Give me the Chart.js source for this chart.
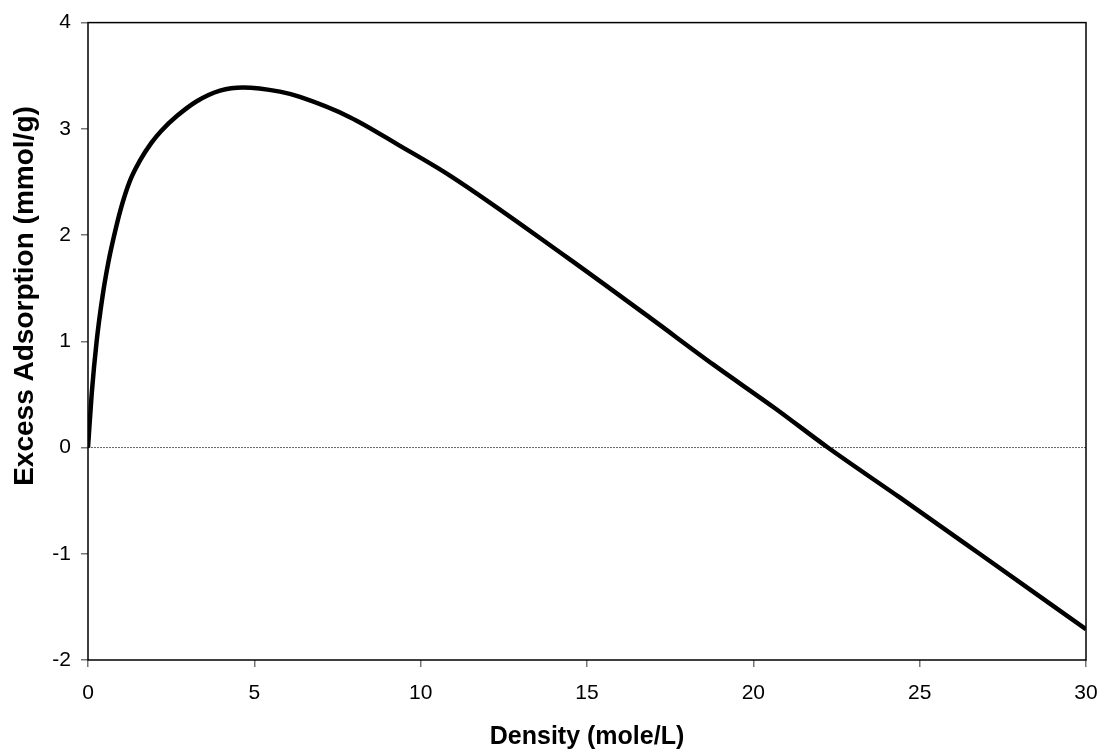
<!DOCTYPE html>
<html>
<head>
<meta charset="utf-8">
<script src="https://cdn.jsdelivr.net/npm/chart.js@4"></script>
<style>
  html, body { margin: 0; padding: 0; background: #fff; }
  #wrap { width: 1109px; height: 752px; }
</style>
</head>
<body>
<div id="wrap"><canvas id="chart" width="1109" height="752"></canvas></div>
<script>
// values
const density = [0, 0.11, 0.26, 0.44, 0.61, 0.76, 0.98, 1.26, 1.56, 1.91, 2.2, 2.67, 3.27, 3.97, 4.66, 5.77, 6.37, 7.87, 9.38, 10.88, 14.4, 16.9, 18.8, 20.65, 22.24, 24.4, 26.8, 30];
const excess = [0, 0.50, 1.0, 1.43, 1.74, 1.96, 2.24, 2.51, 2.70, 2.87, 2.98, 3.12, 3.26, 3.36, 3.39, 3.35, 3.30, 3.11, 2.84, 2.56, 1.79, 1.22, 0.78, 0.37, 0.0, -0.47, -1.0, -1.71];
const zeroLineX = [0, 30];
const zeroLineY = [0, 0];

const xTicks = [0, 5, 10, 15, 20, 25, 30];
const yTicks = [-2, -1, 0, 1, 2, 3, 4];
const yTitle = "Excess Adsorption (mmol/g)";

const font = "'Liberation Sans', Arial, sans-serif";

// box around the plot area, plus the y title (sits above the axis middle)
const frame = {
  id: "frame",
  afterDatasetsDraw(chart) {
    const { ctx, chartArea: a } = chart;
    ctx.save();
    ctx.strokeStyle = "#000";
    ctx.lineWidth = 1.5;
    ctx.strokeRect(a.left, a.top, a.right - a.left, a.bottom - a.top);
    ctx.translate(33, 296);
    ctx.rotate(-Math.PI / 2);
    ctx.fillStyle = "#000";
    ctx.font = "bold 28px " + font;
    ctx.textAlign = "center";
    ctx.textBaseline = "alphabetic";
    ctx.fillText(yTitle, 0, 0);
    ctx.restore();
  },
};

new Chart(document.getElementById("chart"), {
  type: "line",
  data: {
    datasets: [
      {
        data: density.map((x, i) => ({ x: x, y: excess[i] })),
        borderColor: "#000",
        borderWidth: 4.5,
        pointRadius: 0,
        cubicInterpolationMode: "monotone",
      },
      {
        data: zeroLineX.map((x, i) => ({ x: x, y: zeroLineY[i] })),
        borderColor: "#666",
        borderWidth: 1,
        borderDash: [2, 1],
        pointRadius: 0,
      },
    ],
  },
  options: {
    responsive: false,
    animation: false,
    layout: { padding: { top: 18, right: 23, left: 0, bottom: 0 } },
    plugins: { legend: { display: false }, tooltip: { enabled: false } },
    scales: {
      x: {
        type: "linear",
        min: 0,
        max: 30,
        afterBuildTicks: (s) => { s.ticks = xTicks.map((v) => ({ value: v })); },
        afterFit: (s) => {
          s.height = 92;
          s.paddingLeft = 0;
          s.paddingRight = 0;
        },
        grid: { drawOnChartArea: false, tickLength: 7, color: "#777", lineWidth: 1.5 },
        border: { display: false },
        ticks: { color: "#000", font: { family: font, size: 21 }, padding: 14 },
        title: {
          display: true,
          text: "Density (mole/L)",
          color: "#000",
          font: { family: font, size: 25, weight: "bold" },
          padding: { top: 0, bottom: 0 },
        },
      },
      y: {
        min: -2,
        max: 4,
        afterBuildTicks: (s) => { s.ticks = yTicks.map((v) => ({ value: v })); },
        afterFit: (s) => { s.width = 88; },
        grid: { drawOnChartArea: false, tickLength: 7, color: "#777", lineWidth: 1.5 },
        border: { display: false },
        ticks: { color: "#000", font: { family: font, size: 21 }, padding: 10 },
        title: { display: false },
      },
    },
  },
  plugins: [frame],
});
</script>
</body>
</html>
